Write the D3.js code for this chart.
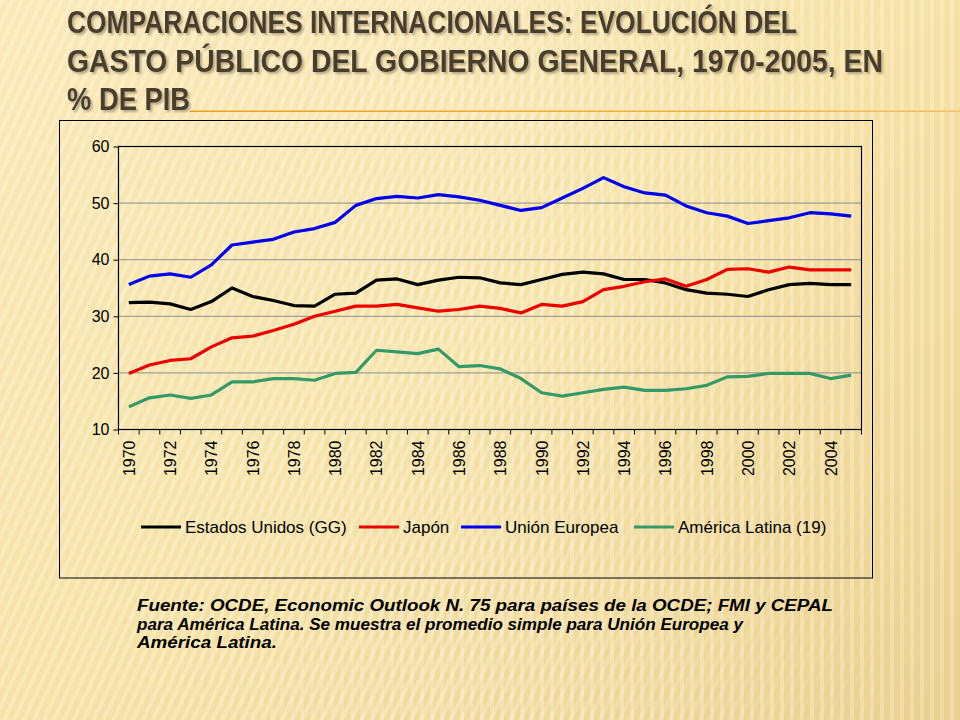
<!DOCTYPE html>
<html>
<head>
<meta charset="utf-8">
<script src="https://cdn.jsdelivr.net/npm/d3@7"></script>
<style>
  html, body { margin: 0; padding: 0; background: #f5e3a8; }
  svg { display: block; }
</style>
</head>
<body>
<div class="vis"></div>
<script>
(function() {
    // data (% of GDP)
    const years = d3.range(1970, 2006);
    const tickYears = d3.range(1970, 2006, 2);
    const yTicks = [10, 20, 30, 40, 50, 60];

    const estadosUnidos = [32.4, 32.5, 32.2, 31.2, 32.6, 35.0, 33.5, 32.8, 31.9, 31.8,
        33.9, 34.1, 36.4, 36.6, 35.6, 36.4, 36.9, 36.8, 35.9, 35.6,
        36.5, 37.4, 37.8, 37.5, 36.5, 36.5, 35.9, 34.7, 34.1, 33.9,
        33.5, 34.7, 35.6, 35.8, 35.6, 35.6];
    const japon = [19.9, 21.4, 22.2, 22.5, 24.6, 26.2, 26.5, 27.5, 28.6, 30.0,
        30.9, 31.8, 31.8, 32.1, 31.5, 30.9, 31.2, 31.8, 31.4, 30.6,
        32.1, 31.8, 32.6, 34.7, 35.3, 36.1, 36.6, 35.3, 36.5, 38.3,
        38.4, 37.8, 38.7, 38.2, 38.2, 38.2];
    const unionEuropea = [35.6, 37.1, 37.5, 36.9, 39.1, 42.6, 43.1, 43.6, 44.9, 45.5,
        46.6, 49.6, 50.8, 51.2, 50.9, 51.5, 51.1, 50.5, 49.6, 48.7,
        49.2, 50.9, 52.6, 54.5, 52.9, 51.8, 51.4, 49.5, 48.3, 47.7,
        46.4, 46.9, 47.4, 48.3, 48.1, 47.7];
    const americaLatina = [14.0, 15.6, 16.1, 15.5, 16.1, 18.4, 18.4, 19.0, 19.0, 18.7,
        19.9, 20.1, 24.0, 23.7, 23.4, 24.2, 21.1, 21.3, 20.7, 19.0,
        16.5, 15.9, 16.5, 17.1, 17.5, 16.9, 16.9, 17.2, 17.8, 19.3,
        19.4, 19.9, 19.9, 19.9, 19.0, 19.6];

    const seriesNames = ["Estados Unidos (GG)", "Japón", "Unión Europea", "América Latina (19)"];
    const seriesColors = ["#000000", "#ee0000", "#0000ee", "#339966"];
    const seriesValues = [estadosUnidos, japon, unionEuropea, americaLatina];

    const titleLines = [
        "COMPARACIONES  INTERNACIONALES: EVOLUCIÓN DEL",
        "GASTO  PÚBLICO DEL GOBIERNO GENERAL, 1970-2005, EN",
        "% DE PIB"
    ];
    const noteLines = [
        "Fuente: OCDE, Economic Outlook N. 75 para países de la OCDE; FMI y CEPAL",
        "para América Latina. Se muestra el promedio simple para Unión Europea y",
        "América Latina."
    ];

    const width = 960, height = 720;
    const plot = { left: 118.5, right: 861.5, top: 146.5, bottom: 429.5 };

    const svg = d3.select(".vis").append("svg")
        .attr("width", width)
        .attr("height", height);

    // background: warm paper with soft stripes
    const defs = svg.append("defs");
    const bg = defs.append("linearGradient").attr("id", "bg")
        .attr("x1", 0).attr("y1", 0).attr("x2", 1).attr("y2", 1);
    bg.append("stop").attr("offset", 0).attr("stop-color", "#fae9b6");
    bg.append("stop").attr("offset", 0.5).attr("stop-color", "#f6e2a4");
    bg.append("stop").attr("offset", 1).attr("stop-color", "#ebd08e");

    const diag = defs.append("pattern").attr("id", "diag")
        .attr("width", 9).attr("height", 9)
        .attr("patternUnits", "userSpaceOnUse")
        .attr("patternTransform", "rotate(25)");
    diag.append("rect").attr("width", 4).attr("height", 9)
        .attr("fill", "#ffffff").attr("opacity", 0.28);

    const vert = defs.append("pattern").attr("id", "vert")
        .attr("width", 10).attr("height", 10)
        .attr("patternUnits", "userSpaceOnUse");
    vert.append("rect").attr("width", 4).attr("height", 10)
        .attr("fill", "#ffffff").attr("opacity", 0.25);

    const fade = defs.append("linearGradient").attr("id", "fade");
    fade.append("stop").attr("offset", 0).attr("stop-color", "#fff").attr("stop-opacity", 0);
    fade.append("stop").attr("offset", 0.55).attr("stop-color", "#fff").attr("stop-opacity", 1);
    const mask = defs.append("mask").attr("id", "rightMask");
    mask.append("rect").attr("width", width).attr("height", height).attr("fill", "url(#fade)");
    const fadeL = defs.append("linearGradient").attr("id", "fadeL");
    fadeL.append("stop").attr("offset", 0.45).attr("stop-color", "#fff").attr("stop-opacity", 1);
    fadeL.append("stop").attr("offset", 1).attr("stop-color", "#fff").attr("stop-opacity", 0);
    const maskL = defs.append("mask").attr("id", "leftMask");
    maskL.append("rect").attr("width", width).attr("height", height).attr("fill", "url(#fadeL)");

    svg.append("rect").attr("width", width).attr("height", height).attr("fill", "url(#bg)");
    svg.append("rect").attr("width", width).attr("height", height)
        .attr("fill", "url(#diag)").attr("mask", "url(#leftMask)");
    svg.append("rect").attr("width", width).attr("height", height)
        .attr("fill", "url(#vert)").attr("mask", "url(#rightMask)");

    // title
    const ul = defs.append("linearGradient").attr("id", "ul");
    ul.append("stop").attr("offset", 0).attr("stop-color", "#e8a020");
    ul.append("stop").attr("offset", 0.6).attr("stop-color", "#f0b040");
    ul.append("stop").attr("offset", 1).attr("stop-color", "#f3c060");
    svg.append("rect").attr("x", 190).attr("y", 110.5).attr("width", 770).attr("height", 1.5)
        .attr("fill", "url(#ul)");

    const shadow = defs.append("filter").attr("id", "shadow")
        .attr("x", -0.05).attr("y", -0.3).attr("width", 1.1).attr("height", 1.6);
    shadow.append("feDropShadow")
        .attr("dx", 2).attr("dy", 2).attr("stdDeviation", 1)
        .attr("flood-color", "#8a7a5c").attr("flood-opacity", 0.6);

    const titleLengths = [730, 816, 123];
    const titleFont = "'Liberation Sans Narrow', 'Arial Narrow', 'Liberation Sans', Arial, sans-serif";
    titleLines.forEach((t, i) => {
        svg.append("text")
            .attr("x", 67).attr("y", 33 + i * 38.5)
            .attr("font-family", titleFont)
            .attr("font-weight", "bold")
            .attr("font-size", 31)
            .attr("textLength", titleLengths[i])
            .attr("lengthAdjust", "spacingAndGlyphs")
            .attr("fill", "#4a3c2e")
            .attr("filter", "url(#shadow)")
            .text(t);
    });

    // chart frame
    svg.append("rect")
        .attr("x", 59.5).attr("y", 120.5).attr("width", 813).attr("height", 457.5)
        .attr("fill", "none").attr("stroke", "#000").attr("stroke-width", 1);

    const x = d3.scaleBand().domain(years).range([plot.left, plot.right]);
    const y = d3.scaleLinear().domain([10, 60]).range([plot.bottom, plot.top]);

    // gridlines
    svg.append("g")
        .selectAll("line")
        .data(yTicks.filter(d => d > 10 && d < 60))
        .enter().append("line")
        .attr("x1", plot.left).attr("x2", plot.right)
        .attr("y1", d => y(d)).attr("y2", d => y(d))
        .attr("stroke", "#8c8c8c").attr("stroke-width", 1);

    svg.append("rect")
        .attr("x", plot.left).attr("y", plot.top)
        .attr("width", plot.right - plot.left).attr("height", plot.bottom - plot.top)
        .attr("fill", "none").attr("stroke", "#000").attr("stroke-width", 1.2);

    const axisFont = "'Liberation Sans', Arial, sans-serif";

    // y axis
    const yAxis = svg.append("g")
        .attr("transform", `translate(${plot.left},0)`)
        .call(d3.axisLeft(y).tickValues(yTicks).tickSize(5).tickPadding(4));
    yAxis.select(".domain").remove();
    yAxis.selectAll("line").attr("stroke", "#000");
    yAxis.selectAll("text")
        .attr("font-family", axisFont).attr("font-size", 16).attr("fill", "#000");

    // x axis: ticks between categories
    const xAxis = svg.append("g").attr("transform", `translate(0,${plot.bottom})`);
    xAxis.selectAll("line")
        .data(d3.range(years.length + 1))
        .enter().append("line")
        .attr("x1", i => plot.left + i * x.step())
        .attr("x2", i => plot.left + i * x.step())
        .attr("y1", 0).attr("y2", 5)
        .attr("stroke", "#000");
    xAxis.selectAll("text")
        .data(tickYears)
        .enter().append("text")
        .attr("transform", d => `translate(${x(d) + x.bandwidth() / 2 + 6},${11}) rotate(-90)`)
        .attr("text-anchor", "end")
        .attr("font-family", axisFont).attr("font-size", 16).attr("fill", "#000")
        .text(d => d);

    // lines
    const line = d3.line()
        .x((d, i) => x(years[i]) + x.bandwidth() / 2)
        .y(d => y(d));
    svg.append("g")
        .selectAll("path")
        .data(seriesValues)
        .enter().append("path")
        .attr("d", d => line(d))
        .attr("fill", "none")
        .attr("stroke", (d, i) => seriesColors[i])
        .attr("stroke-width", 3.2)
        .attr("stroke-linejoin", "round");

    // legend
    const legendX = [141, 359, 461, 634];
    const legend = svg.append("g").selectAll("g")
        .data(seriesNames)
        .enter().append("g")
        .attr("transform", (d, i) => `translate(${legendX[i]},527)`);
    legend.append("line")
        .attr("x1", 0).attr("x2", 40).attr("y1", 0).attr("y2", 0)
        .attr("stroke", (d, i) => seriesColors[i]).attr("stroke-width", 3);
    legend.append("text")
        .attr("x", 44).attr("y", 6)
        .attr("font-family", axisFont).attr("font-size", 17).attr("fill", "#000")
        .text(d => d);

    // source note
    const noteLengths = [696, 606, 140];
    noteLines.forEach((t, i) => {
        svg.append("text")
            .attr("x", 137).attr("y", 611 + i * 18.7)
            .attr("font-family", "'Liberation Sans Narrow', 'Arial Narrow', 'Liberation Sans', Arial, sans-serif")
            .attr("font-weight", "bold").attr("font-style", "italic")
            .attr("font-size", 16)
            .attr("textLength", noteLengths[i])
            .attr("lengthAdjust", "spacingAndGlyphs")
            .attr("fill", "#000")
            .text(t);
    });
})()
</script>
</body>
</html>
